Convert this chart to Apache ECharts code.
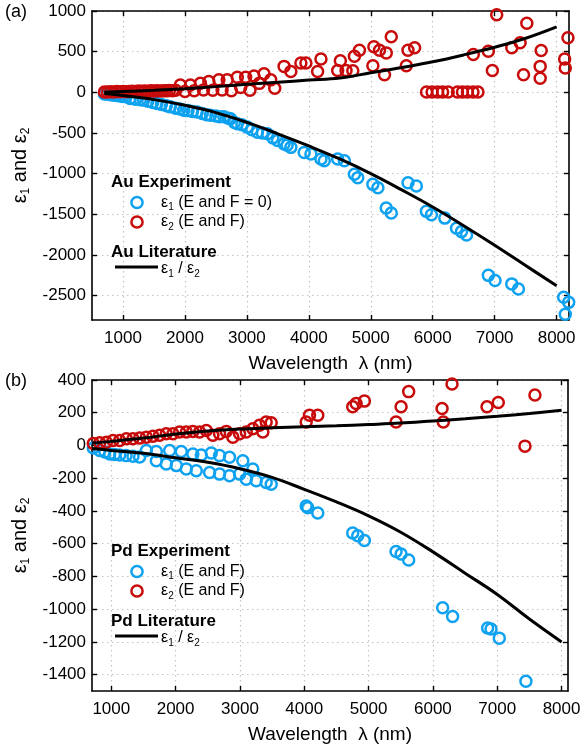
<!DOCTYPE html>
<html>
<head>
<meta charset="utf-8">
<script src="https://cdn.jsdelivr.net/npm/echarts@6/dist/echarts.min.js"></script>
<style>
html,body{margin:0;padding:0;background:#fff;}
#chart{width:585px;height:745px;}
</style>
</head>
<body>
<div id="chart"></div>
<script>
// ---------- DATA ----------
// Tick values
const xTicksTop = [1000, 2000, 3000, 4000, 5000, 6000, 7000, 8000];
const xTicksBottom = [1000, 2000, 3000, 4000, 5000, 6000, 7000, 8000];
const yTicksTop = [1000, 500, 0, -500, -1000, -1500, -2000, -2500];
const yTicksBottom = [400, 200, 0, -200, -400, -600, -800, -1000, -1200, -1400];

// Literature curves (wavelength nm)
const litWl = [700, 1000, 1500, 2000, 2500, 3000, 3500, 4000, 4500, 5000, 5500, 6000, 6500, 7000, 7500, 8000];
const auEps1Lit = [-15, -40, -90, -160, -250, -370, -510, -660, -820, -1000, -1200, -1410, -1640, -1880, -2130, -2380];
const auEps2Lit = [2, 10, 25, 45, 70, 100, 125, 150, 175, 240, 305, 375, 460, 555, 665, 805];
const pdEps1Lit = [-18, -30, -48, -75, -103, -142, -195, -268, -345, -430, -530, -650, -780, -910, -1060, -1200];
const pdEps2Lit = [15, 25, 45, 70, 88, 100, 108, 115, 120, 128, 137, 150, 163, 178, 195, 215];

// Au experiment eps1
const auEps1Wl = [700,750,800,850,900,950,1000,1050,1116,1200,1280,1332,1400,1480,1548,1620,1700,1764,1850,1920,1980,2050,2120,2197,2280,2350,2413,2500,2560,2629,2700,2737,2800,2845,2920,3007,3080,3170,3250,3332,3420,3494,3601,3650,3710,3925,4034,4196,4250,4466,4574,4736,4790,5034,5115,5250,5331,5601,5736,5898,5979,6195,6384,6465,6546,6898,7006,7276,7384,8114,8195,8140];
const auEps1Val = [-20,-25,-30,-35,-38,-45,-50,-55,-75,-85,-90,-96,-110,-125,-137,-150,-165,-179,-195,-205,-220,-225,-235,-241,-260,-275,-282,-290,-300,-300,-320,-324,-370,-386,-400,-428,-460,-490,-500,-510,-560,-593,-634,-650,-677,-739,-759,-821,-842,-821,-842,-1007,-1050,-1132,-1174,-1423,-1485,-1112,-1153,-1464,-1505,-1547,-1672,-1713,-1754,-2251,-2313,-2356,-2418,-2521,-2583,-2729];

// Au experiment eps2
const auEps2Wl = [700,750,800,850,900,950,1000,1050,1100,1150,1200,1250,1300,1350,1400,1450,1500,1550,1600,1650,1700,1750,1800,1850,1926,2000,2088,2150,2250,2300,2386,2450,2548,2600,2683,2750,2845,2900,2980,3050,3115,3200,3277,3385,3450,3601,3710,3872,3953,4142,4196,4466,4509,4601,4710,4736,4817,5034,5050,5141,5222,5250,5331,5574,5601,5708,5900,5990,6080,6160,6250,6400,6480,6560,6650,6730,6655,6898,6963,7033,7276,7411,7466,7519,7735,7735,7751,8130,8140,8183];
const auEps2Val = [5,5,8,5,10,8,10,8,10,12,10,15,12,15,12,18,15,20,15,20,18,22,20,25,91,10,91,20,112,30,132,25,153,30,153,20,186,60,186,25,200,110,228,153,50,319,257,360,360,257,410,269,389,269,265,443,517,327,560,517,215,485,684,327,517,547,5,5,5,5,5,5,5,5,5,5,464,505,269,953,547,609,215,849,319,174,514,410,298,672];

// Pd experiment eps1
const pdEps1Wl = [720,820,900,975,1050,1130,1230,1337,1440,1545,1700,1907,2088,2268,2399,2554,2683,2838,3045,1700,1855,2011,2166,2321,2528,2683,2838,2994,3098,3200,3253,3408,3486,4030,4055,4210,4753,4831,4935,5427,5505,5623,6151,6306,6850,6903,7032,7446];
const pdEps1Val = [-15,-31,-40,-52,-55,-58,-62,-66,-70,-31,-37,-31,-37,-52,-58,-46,-62,-72,-93,-93,-113,-123,-144,-154,-165,-175,-185,-175,-206,-144,-216,-226,-237,-370,-381,-412,-535,-552,-580,-648,-663,-700,-992,-1045,-1115,-1121,-1177,-1440];

// Pd experiment eps2
const pdEps2Wl = [720,820,924,1026,1130,1234,1337,1441,1545,1647,1751,1855,1958,2062,2166,2268,2373,2477,2579,2683,2787,2890,2994,3098,3200,3304,3356,3408,3486,4030,4081,4210,4753,4806,4935,5427,5505,5623,6142,6162,6297,6841,7016,7431,7586];
const pdEps2Val = [12,16,20,31,31,41,41,45,51,57,62,72,72,82,82,86,82,92,62,72,86,51,72,82,102,123,82,144,139,144,185,185,236,257,271,144,236,329,226,144,376,236,263,-4,308];

// ---------- STYLE ----------
const FONT = '"Liberation Sans", Arial, Helvetica, sans-serif';
const BLUE = '#0ea2f0';
const RED = '#c80a0a';
const zip = (a, b) => a.map((x, i) => [x, b[i]]);
const plain = v => String(v);

function xAxisPair(grid, min, max, ticks, nameGap) {
  const base = {
    gridIndex: grid, type: 'value', min: min, max: max,
    axisLine: {show: true, onZero: false, lineStyle: {color: '#000', width: 1.6}},
    axisTick: {show: true, inside: true, length: 5, customValues: ticks, lineStyle: {color: '#000', width: 1.4}},
  };
  return [
    Object.assign({}, base, {
      position: 'bottom',
      axisLabel: {color: '#000', fontSize: 17, fontFamily: FONT, margin: 10, customValues: ticks, formatter: plain},
      splitLine: {show: true, lineStyle: {color: '#c4c4c4', width: 1.2, type: [1.5, 3.5]}},
      name: 'Wavelength  λ (nm)', nameLocation: 'middle', nameGap: nameGap,
      nameTextStyle: {color: '#000', fontSize: 19, fontFamily: FONT}
    }),
    Object.assign({}, base, {
      position: 'top', axisLabel: {show: false}, splitLine: {show: false}
    })
  ];
}

const yRich = {
  t: {fontSize: 20, fontFamily: FONT, color: '#000', lineHeight: 22},
  s: {fontSize: 12, fontFamily: FONT, color: '#000', lineHeight: 11, verticalAlign: 'bottom'}
};

function yAxisPair(grid, min, max, ticks) {
  const base = {
    gridIndex: grid, type: 'value', min: min, max: max,
    axisLine: {show: true, onZero: false, lineStyle: {color: '#000', width: 1.6}},
    axisTick: {show: true, inside: true, length: 5, customValues: ticks, lineStyle: {color: '#000', width: 1.4}},
  };
  return [
    Object.assign({}, base, {
      position: 'left',
      axisLabel: {color: '#000', fontSize: 17, fontFamily: FONT, margin: 6, customValues: ticks, formatter: plain},
      splitLine: {show: true, lineStyle: {color: '#c4c4c4', width: 1.2, type: [1.5, 3.5]}},
      name: '{t|ε}{s|1}{t| and ε}{s|2}', nameLocation: 'middle', nameRotate: 90, nameGap: 56,
      nameTextStyle: {rich: yRich}
    }),
    Object.assign({}, base, {
      position: 'right', axisLabel: {show: false}, splitLine: {show: false}
    })
  ];
}

function scatter(name, xi, yi, data, color) {
  return {
    name: name, type: 'scatter', xAxisIndex: xi, yAxisIndex: yi, data: data,
    symbol: 'circle', symbolSize: 11,
    itemStyle: {color: 'rgba(0,0,0,0)', borderColor: color, borderWidth: 2.5, opacity: 1},
    z: 2, silent: true
  };
}
function litLine(name, xi, yi, data) {
  return {
    name: name, type: 'line', xAxisIndex: xi, yAxisIndex: yi, data: data,
    showSymbol: false, smooth: 0.4, lineStyle: {color: '#000', width: 3}, z: 5, silent: true
  };
}

const legRich = {
  t: {fontSize: 16, fontFamily: FONT, color: '#000', lineHeight: 20},
  s: {fontSize: 10, fontFamily: FONT, color: '#000', lineHeight: 10, verticalAlign: 'bottom'}
};
function legendGroup(title1, title2, eps1Label, y0) {
  const els = [];
  const txt = (x, y, text, extra) => ({type: 'text', x: x, y: y, style: Object.assign({
    text: text, fill: '#000', font: '16px ' + FONT, verticalAlign: 'middle', align: 'left'}, extra || {}), z: 20});
  els.push(txt(111, y0, title1, {font: 'bold 17px ' + FONT}));
  els.push({type: 'circle', shape: {cx: 137, cy: y0 + 20.5, r: 5.6}, style: {fill: 'none', stroke: BLUE, lineWidth: 2.5}, z: 20});
  els.push(txt(161, y0 + 20.5, eps1Label, {rich: legRich}));
  els.push({type: 'circle', shape: {cx: 137, cy: y0 + 40, r: 5.6}, style: {fill: 'none', stroke: RED, lineWidth: 2.5}, z: 20});
  els.push(txt(161, y0 + 40, '{t|ε}{s|2}{t| (E and F)}', {rich: legRich}));
  els.push(txt(111, y0 + 70, title2, {font: 'bold 17px ' + FONT}));
  els.push({type: 'line', shape: {x1: 115, y1: y0 + 85, x2: 158, y2: y0 + 85}, style: {stroke: '#000', lineWidth: 3}, z: 20});
  els.push(txt(161, y0 + 87, '{t|ε}{s|1}{t| / ε}{s|2}', {rich: legRich}));
  return els;
}

const chart = echarts.init(document.getElementById('chart'), null, {renderer: 'canvas'});
const xs = xAxisPair(0, 500, 8200, xTicksTop, 34).concat(xAxisPair(1, 700, 8100, xTicksBottom, 34));
const ys = yAxisPair(0, -2800, 1000, yTicksTop).concat(yAxisPair(1, -1500, 400, yTicksBottom));

const option = {
  animation: false,
  backgroundColor: '#fff',
  textStyle: {fontFamily: FONT},
  grid: [
    {left: 92, top: 11, width: 477, height: 309},
    {left: 92, top: 380, width: 476, height: 311}
  ],
  xAxis: xs,
  yAxis: ys,
  series: [
    scatter('Au eps1', 0, 0, zip(auEps1Wl, auEps1Val), BLUE),
    scatter('Au eps2', 0, 0, zip(auEps2Wl, auEps2Val), RED),
    litLine('Au lit eps1', 0, 0, zip(litWl, auEps1Lit)),
    litLine('Au lit eps2', 0, 0, zip(litWl, auEps2Lit)),
    scatter('Pd eps1', 2, 2, zip(pdEps1Wl, pdEps1Val), BLUE),
    scatter('Pd eps2', 2, 2, zip(pdEps2Wl, pdEps2Val), RED),
    litLine('Pd lit eps1', 2, 2, zip(litWl, pdEps1Lit)),
    litLine('Pd lit eps2', 2, 2, zip(litWl, pdEps2Lit))
  ],
  graphic: [
    {type: 'text', x: 5, y: 12, style: {text: '(a)', font: '18px ' + FONT, fill: '#000', verticalAlign: 'middle'}},
    {type: 'text', x: 5, y: 381, style: {text: '(b)', font: '18px ' + FONT, fill: '#000', verticalAlign: 'middle'}}
  ].concat(legendGroup('Au Experiment', 'Au Literature', '{t|ε}{s|1}{t| (E and F = 0)}', 182))
   .concat(legendGroup('Pd Experiment', 'Pd Literature', '{t|ε}{s|1}{t| (E and F)}', 551))
};
chart.setOption(option);
</script>
</body>
</html>
